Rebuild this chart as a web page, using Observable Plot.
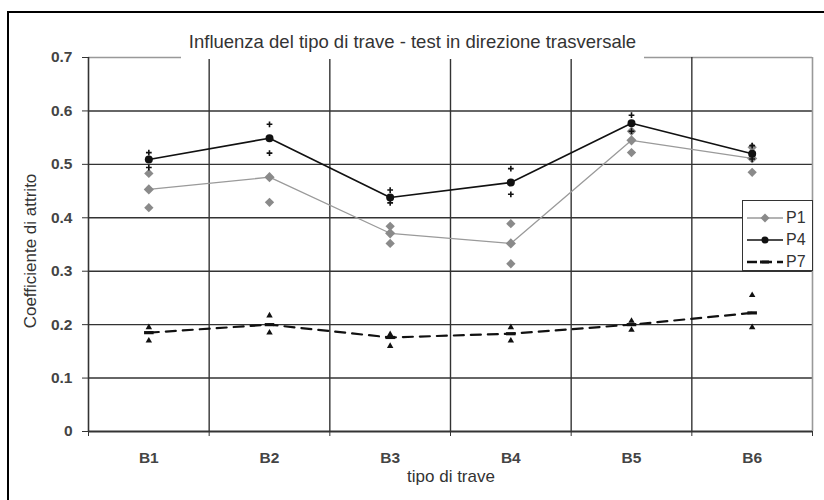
<!DOCTYPE html>
<html>
<head>
<meta charset="utf-8">
<script src="https://cdn.jsdelivr.net/npm/d3@7"></script>
<script src="https://cdn.jsdelivr.net/npm/@observablehq/plot@0.6"></script>
<style>
  html, body { margin: 0; padding: 0; background: #fff; overflow: hidden; }
  body { width: 824px; height: 500px; position: relative; font-family: Arial, "Liberation Sans", sans-serif; color: #333; }
  #chart { position: absolute; left: 0; top: 0; }
  #frame { position: absolute; left: 7px; top: 11px; width: 900px; height: 600px; border: 2px solid #000; pointer-events: none; }
  #title { position: absolute; left: 181px; top: 31px; width: 463px; height: 28px; background: #fff; text-align: center; font-size: 18.5px; line-height: 22px; color: #333; white-space: nowrap; }
  #ylabel { position: absolute; left: 31px; top: 251px; transform: translate(-50%, -50%) rotate(-90deg); white-space: nowrap; font-size: 17px; color: #333; }
  #xlabel { position: absolute; left: 451px; top: 477px; transform: translate(-50%, -50%); white-space: nowrap; font-size: 17px; color: #333; }
  #legend { position: absolute; left: 742px; top: 200px; width: 69px; height: 69px; border: 1.5px solid #333; background: #fff; }
  #legend .item { position: absolute; left: 4px; height: 18px; display: flex; align-items: center; font-size: 16px; color: #333; }
  #legend svg { margin-right: 3px; }
</style>
</head>
<body>
<div id="chart"></div>
<div id="title">Influenza del tipo di trave - test in direzione trasversale</div>
<div id="ylabel">Coefficiente di attrito</div>
<div id="xlabel">tipo di trave</div>
<div id="legend"></div>
<div id="frame"></div>
<script>
// ---- data ----
const categories = ["B1", "B2", "B3", "B4", "B5", "B6"];
const seriesNames = ["P1", "P4", "P7"];
const yTicks = [0, 0.1, 0.2, 0.3, 0.4, 0.5, 0.6, 0.7];

// mean values (line + main marker)
const p1Mean = [0.453, 0.476, 0.371, 0.352, 0.545, 0.511];
const p4Mean = [0.509, 0.549, 0.438, 0.466, 0.577, 0.520];
const p7Mean = [0.185, 0.200, 0.176, 0.183, 0.200, 0.222];

// individual test values (scatter markers)
const p1Tests = [[0.483, 0.419], [0.429], [0.384, 0.352], [0.389, 0.314], [0.562, 0.522], [0.532, 0.485]];
const p4Tests = [[0.522, 0.494], [0.575, 0.521], [0.452, 0.428], [0.492, 0.444], [0.592, 0.562], [0.535, 0.510]];
const p7Tests = [[0.195, 0.170], [0.217, 0.185], [0.182, 0.160], [0.195, 0.170], [0.207, 0.190], [0.255, 0.195]];

// ---- tables built from the arrays ----
const idx = categories.map((c, i) => i + 1);
const meanRows = (vals, s) => vals.map((v, i) => ({x: i + 1, y: v, s}));
const testRows = (tests, s) => tests.flatMap((arr, i) => arr.map(v => ({x: i + 1, y: v, s})));
const p1M = meanRows(p1Mean, "P1"), p4M = meanRows(p4Mean, "P4"), p7M = meanRows(p7Mean, "P7");
const p1T = testRows(p1Tests, "P1"), p4T = testRows(p4Tests, "P4"), p7T = testRows(p7Tests, "P7");
const bounds = d3.range(0.5, categories.length + 1, 1);

const dashSymbol = {draw(ctx, size) { const w = Math.sqrt(size) * 0.9, h = Math.sqrt(size) * 0.3; ctx.rect(-w, -h, 2 * w, 2 * h); }};

const grid = "#333";
const fmt = d => String(+d.toFixed(1));

const chart = Plot.plot({
  width: 824,
  height: 500,
  marginLeft: 88,
  marginRight: 12,
  marginTop: 57,
  marginBottom: 69,
  style: {background: "transparent", fontFamily: "Arial, 'Liberation Sans', sans-serif", color: "#333"},
  x: {type: "linear", domain: [0.5, categories.length + 0.5], axis: null},
  y: {domain: [0, 0.7], axis: null},
  marks: [
    // horizontal gridlines
    Plot.ruleY(yTicks.slice(1, -1), {stroke: grid, strokeWidth: 1.4}),
    Plot.ruleY(yTicks.slice(-1), {stroke: "#999", strokeWidth: 1.4}),
    // vertical gridlines at category boundaries
    Plot.ruleX(bounds.slice(1, -1), {stroke: grid, strokeWidth: 1.4}),
    Plot.ruleX(bounds.slice(-1), {stroke: "#999", strokeWidth: 1.6}),
    Plot.ruleX(bounds.slice(0, 1), {stroke: grid, strokeWidth: 1.6}),
    Plot.ruleY([0], {stroke: grid, strokeWidth: 1.8}),
    // axes
    Plot.axisY({ticks: yTicks, tickSize: 6, tickPadding: 10, tickFormat: fmt, fontSize: 15.5, fontWeight: "bold", fill: "#444", stroke: grid, label: null}),
    Plot.axisX({ticks: bounds, tickSize: 5, tickFormat: () => "", stroke: grid, label: null}),
    Plot.axisX({ticks: idx, tickSize: 0, tickPadding: 20, tickFormat: i => categories[i - 1], fontSize: 15.5, fontWeight: "bold", fill: "#444", label: null}),
    // P1
    Plot.line(p1M, {x: "x", y: "y", stroke: "#9a9a9a", strokeWidth: 1.3}),
    Plot.dot(p1T, {x: "x", y: "y", symbol: "diamond2", r: 4.2, fill: "#8a8a8a", stroke: "none"}),
    Plot.dot(p1M, {x: "x", y: "y", symbol: "diamond2", r: 4.6, fill: "#8a8a8a", stroke: "none"}),
    // P4
    Plot.line(p4M, {x: "x", y: "y", stroke: "#111", strokeWidth: 1.6}),
    Plot.dot(p4T, {x: "x", y: "y", symbol: "plus", r: 2, stroke: "#111", strokeWidth: 1.6, fill: "none"}),
    Plot.dot(p4M, {x: "x", y: "y", symbol: "circle", r: 4, fill: "#111", stroke: "none"}),
    // P7
    Plot.line(p7M, {x: "x", y: "y", stroke: "#111", strokeWidth: 2.2, strokeDasharray: "10,7"}),
    Plot.dot(p7T, {x: "x", y: "y", symbol: "triangle", r: 2.4, fill: "#111", stroke: "none"}),
    Plot.dot(p7M, {x: "x", y: "y", symbol: dashSymbol, r: 3, fill: "#111", stroke: "none"})
  ]
});
document.getElementById("chart").appendChild(chart);

// ---- legend ----
const legend = d3.select("#legend");
const legendStyles = {
  P1: {stroke: "#9a9a9a", width: 1.3, dash: null, marker: "diamond"},
  P4: {stroke: "#111", width: 1.6, dash: null, marker: "circle"},
  P7: {stroke: "#111", width: 2.4, dash: "10,5", marker: "dash"}
};
seriesNames.forEach((name, k) => {
  const st = legendStyles[name];
  const item = legend.append("div").attr("class", "item").style("top", (8 + k * 22) + "px");
  const svg = item.append("svg").attr("width", 36).attr("height", 12);
  svg.append("line").attr("x1", 0).attr("x2", 36).attr("y1", 6).attr("y2", 6)
    .attr("stroke", st.stroke).attr("stroke-width", st.width).attr("stroke-dasharray", st.dash);
  if (st.marker === "diamond") svg.append("path").attr("d", "M18,1.5L22.5,6L18,10.5L13.5,6Z").attr("fill", "#8a8a8a");
  if (st.marker === "circle") svg.append("circle").attr("cx", 18).attr("cy", 6).attr("r", 3.5).attr("fill", "#111");
  if (st.marker === "dash") svg.append("rect").attr("x", 13).attr("y", 4.5).attr("width", 9).attr("height", 3).attr("fill", "#111");
  item.append("span").text(name);
});
</script>
</body>
</html>
